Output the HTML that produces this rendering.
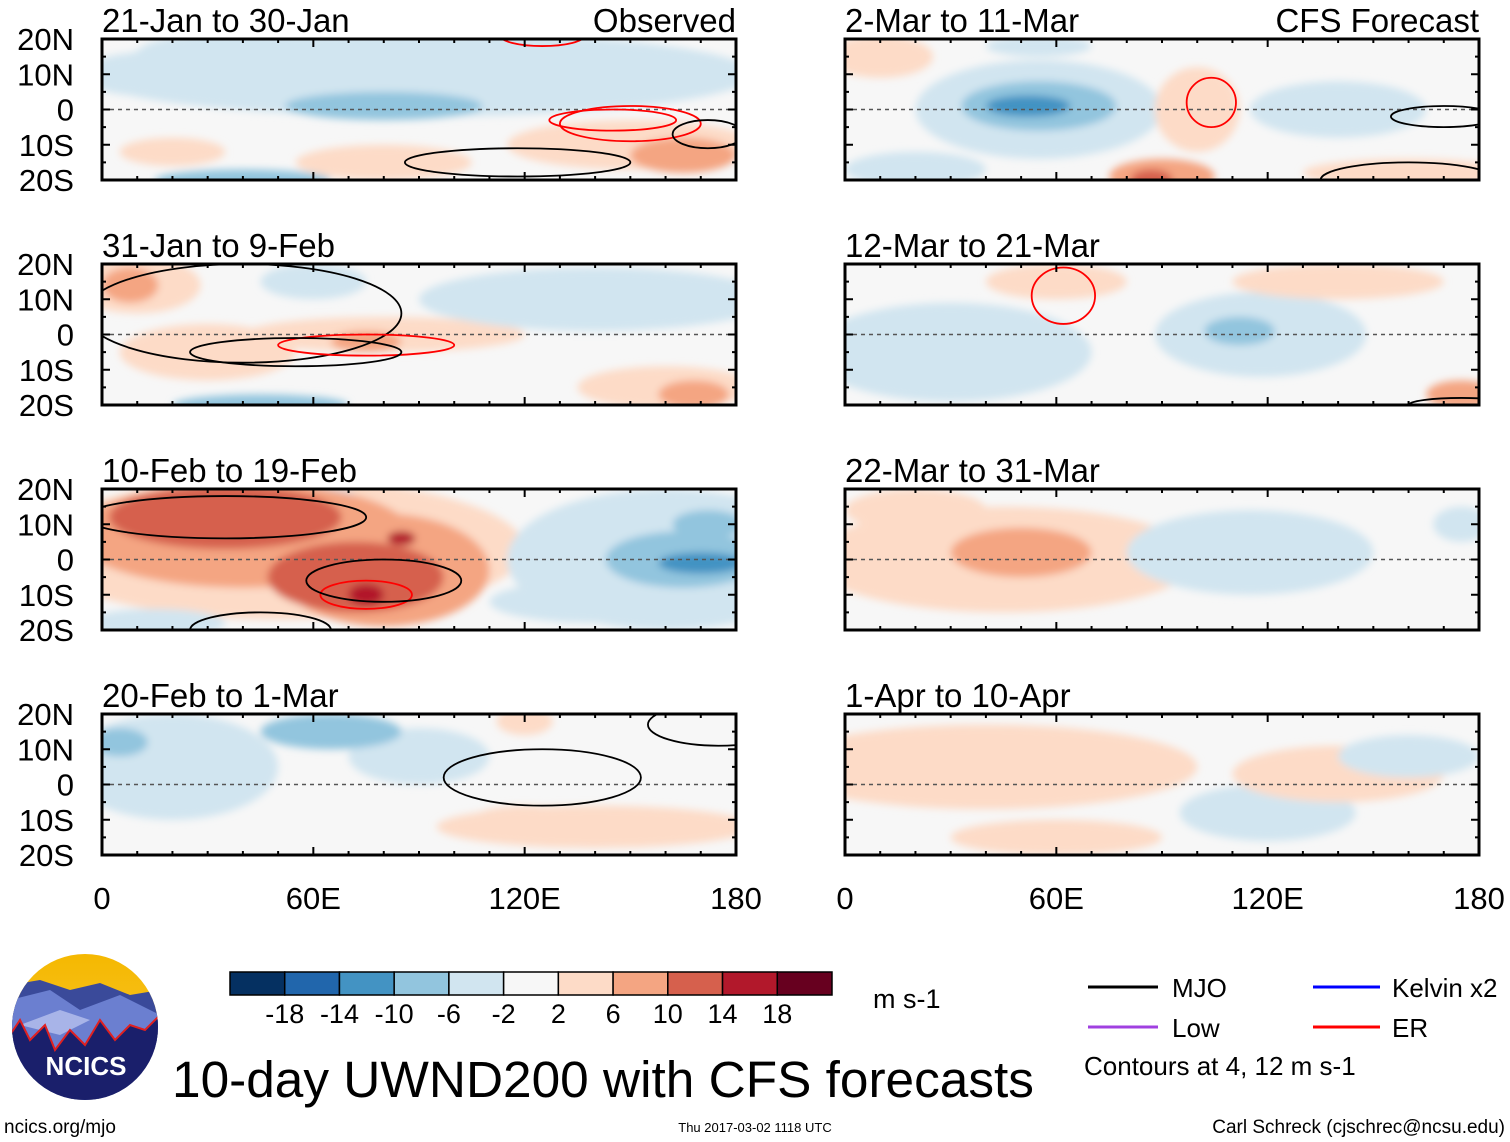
<!DOCTYPE html>
<html><head><meta charset="utf-8">
<style>
body{margin:0;background:#fff;}
svg{display:block;font-family:"Liberation Sans",sans-serif;}
</style></head>
<body>
<svg id="chart" width="1510" height="1142" viewBox="0 0 1510 1142" xmlns="http://www.w3.org/2000/svg">
<defs>
<filter id="blur" x="-20%" y="-20%" width="140%" height="140%"><feGaussianBlur stdDeviation="4"/></filter>
<linearGradient id="sky" x1="0" y1="0" x2="0" y2="1"><stop offset="0" stop-color="#f5b800"/><stop offset="1" stop-color="#f7c93a"/></linearGradient>
<clipPath id="logoclip"><circle cx="85" cy="1027" r="73"/></clipPath>
</defs>
<g id="panels"></g>
<g id="colorbar"></g>
<text x="873" y="1008" font-size="27">m s-1</text>
<g font-size="26">
<line x1="1088" y1="987" x2="1158" y2="987" stroke="#000" stroke-width="3"/>
<text x="1172" y="997">MJO</text>
<line x1="1313" y1="987" x2="1380" y2="987" stroke="#0000ff" stroke-width="3"/>
<text x="1392" y="997">Kelvin x2</text>
<line x1="1088" y1="1027" x2="1158" y2="1027" stroke="#a040e0" stroke-width="3"/>
<text x="1172" y="1037">Low</text>
<line x1="1313" y1="1027" x2="1380" y2="1027" stroke="#ff0000" stroke-width="3"/>
<text x="1392" y="1037">ER</text>
<text x="1084" y="1075">Contours at 4, 12 m s-1</text>
</g>
<g clip-path="url(#logoclip)">
<rect x="10" y="952" width="150" height="150" fill="url(#sky)"/>
<polygon points="10,985 40,980 70,990 100,983 130,995 160,990 160,1102 10,1102" fill="#3a4a9a"/>
<polygon points="10,1000 50,990 80,1010 120,995 160,1015 160,1102 10,1102" fill="#6b7fd0"/>
<polygon points="20,1025 60,1010 90,1020 60,1035" fill="#a8b4e8"/>
<polygon points="10,1035 20,1020 30,1040 45,1025 55,1050 70,1030 85,1045 100,1020 115,1040 130,1025 145,1030 160,1015 160,1102 10,1102" fill="#1a1f6b" stroke="#e02020" stroke-width="2"/>
</g>
<text x="86" y="1075" font-size="26" font-weight="bold" fill="#fff" text-anchor="middle">NCICS</text>
<text x="172" y="1097" font-size="51" textLength="862" lengthAdjust="spacingAndGlyphs">10-day UWND200 with CFS forecasts</text>
<text x="4" y="1133" font-size="19">ncics.org/mjo</text>
<text x="755" y="1132" font-size="13" text-anchor="middle">Thu 2017-03-02 1118 UTC</text>
<text x="1505" y="1133" font-size="19" text-anchor="end">Carl Schreck (cjschrec@ncsu.edu)</text>
</svg>
<script>
// Color scale
const levels = [-18,-14,-10,-6,-2,2,6,10,14,18];
const colors = ["#053061","#2166ac","#4393c3","#92c5de","#d1e5f0","#f7f7f7","#fddbc7","#f4a582","#d6604d","#b2182b","#67001f"];
const panelTitles = ["21-Jan to 30-Jan","31-Jan to 9-Feb","10-Feb to 19-Feb","20-Feb to 1-Mar","2-Mar to 11-Mar","12-Mar to 21-Mar","22-Mar to 31-Mar","1-Apr to 10-Apr"];
const latTicks = ["20N","10N","0","10S","20S"];
const lonTicks = ["0","60E","120E","180"];
// anomaly features per panel: [lon, lat, value, lonHalfWidth, latHalfWidth]
const anom0 = [[90,10,-4,95,12],[80,1,-8,28,4],[40,16,-4,30,6],[150,-10,4,35,7],[165,-13,8,15,5],[80,-15,4,25,5],[40,-20,-6,25,3],[10,10,-4,15,6],[20,-12,4,15,4]];
const anom1 = [[10,14,4,18,8],[8,14,8,8,5],[80,0,4,40,5],[75,-2,8,10,3],[160,-15,4,25,6],[168,-17,8,10,4],[45,-20,-6,25,3],[140,10,-4,50,9],[30,-5,4,25,8],[60,15,-4,15,5]];
const anom2 = [[50,3,4,70,20],[40,7,8,48,15],[80,-3,8,30,16],[35,12,12,33,9],[72,-5,12,25,10],[85,6,16,4,2],[75,-10,16,5,3],[160,0,-4,45,20],[165,0,-8,22,8],[170,-1,-12,12,3],[172,10,-8,10,4],[15,-18,-4,20,4],[60,18,-4,12,3],[140,-12,-4,30,6]];
const anom3 = [[20,5,-4,30,15],[5,12,-8,8,4],[65,15,-6,20,5],[140,-12,4,45,6],[120,18,4,8,4],[120,-10,4,15,4],[90,8,-4,20,8]];
const anom4 = [[55,0,-4,35,14],[55,1,-8,22,7],[52,1,-12,12,3],[90,-19,8,15,5],[87,-20,12,6,3],[100,0,4,12,12],[160,-18,4,30,4],[10,15,4,15,6],[20,-17,-4,20,5],[140,0,-4,25,8],[55,18,-4,15,3]];
const anom5 = [[118,0,-4,30,12],[112,1,-8,10,4],[30,-5,-4,40,14],[60,15,4,20,5],[175,-17,8,10,4],[140,15,4,30,5]];
const anom6 = [[45,0,4,55,15],[50,2,8,20,7],[115,2,-4,35,12],[175,10,-4,8,5],[20,14,4,20,6]];
const anom7 = [[40,5,4,60,12],[120,-8,-4,25,8],[140,3,4,30,8],[60,-15,4,30,5],[160,8,-4,20,6]];
const anoms = [anom0,anom1,anom2,anom3,anom4,anom5,anom6,anom7];
// contours: [lon, lat, lonHalfWidth, latHalfWidth, color]
const cont0 = [[118,-15,32,4,"#000"],[150,-4,20,5,"#f00"],[172,-7,10,4,"#000"],[145,-3,18,3,"#f00"],[125,21,12,3,"#f00"]];
const cont1 = [[40,6,45,14,"#000"],[75,-3,25,3,"#f00"],[55,-5,30,4,"#000"]];
const cont2 = [[35,12,40,6,"#000"],[75,-10,13,4,"#f00"],[80,-6,22,6,"#000"],[45,-20,20,5,"#000"]];
const cont3 = [[125,2,28,8,"#000"],[175,17,20,6,"#000"]];
const cont4 = [[104,2,7,7,"#f00"],[170,-2,15,3,"#000"],[160,-20,25,5,"#000"]];
const cont5 = [[62,11,9,8,"#f00"],[175,-20,15,2,"#000"]];
const cont6 = [];
const cont7 = [];
const conts = [cont0,cont1,cont2,cont3,cont4,cont5,cont6,cont7];

function colorFor(v){let i=0;while(i<levels.length&&v>levels[i])i++;return colors[i];}
const NS="http://www.w3.org/2000/svg";
function mk(tag,attrs,parent){const e=document.createElementNS(NS,tag);for(const k in attrs)e.setAttribute(k,attrs[k]);parent.appendChild(e);return e;}
const panelsG=document.getElementById('panels');
const W=634,H=141;
const rowsY=[39,264,489,714];
const colsX=[102,845];
for(let p=0;p<8;p++){
  const col=p<4?0:1,row=p%4;
  const x0=colsX[col],y0=rowsY[row];
  const xs=lon=>x0+lon/180*W, ys=lat=>y0+(20-lat)/40*H;
  const g=mk('g',{},panelsG);
  
  
  const cid='clip'+p;
  const cp=mk('clipPath',{id:cid},g);mk('rect',{x:x0,y:y0,width:W,height:H},cp);
  const inner=mk('g',{'clip-path':'url(#'+cid+')'},g);
  mk('rect',{x:x0,y:y0,width:W,height:H,fill:'#f7f7f7'},inner);
  const bl=mk('g',{filter:'url(#blur)'},inner);
  const sorted=anoms[p].slice().sort((a,b)=>Math.abs(a[2])-Math.abs(b[2]));
  sorted.forEach(a=>{
    const e=mk('ellipse',{cx:xs(a[0]),cy:ys(a[1]),rx:a[3]/180*W,ry:a[4]/40*H,fill:colorFor(a[2])},bl);
    
    
  });
  mk('line',{x1:x0,y1:ys(0),x2:x0+W,y2:ys(0),stroke:'#555','stroke-width':1.5,'stroke-dasharray':'4,4'},inner);
  conts[p].forEach(c=>{
    const e=mk('ellipse',{cx:xs(c[0]),cy:ys(c[1]),rx:c[2]/180*W,ry:c[3]/40*H,fill:'none',stroke:c[4],'stroke-width':1.8},inner);
    
    
  });
  mk('rect',{x:x0,y:y0,width:W,height:H,fill:'none',stroke:'#000','stroke-width':3},g);
  for(let l=0;l<=180;l+=10){const len=l%60==0?8:4;mk('line',{x1:xs(l),y1:y0,x2:xs(l),y2:y0+len,stroke:'#000','stroke-width':2},g);mk('line',{x1:xs(l),y1:y0+H,x2:xs(l),y2:y0+H-len,stroke:'#000','stroke-width':2},g);}
  for(let la=-20;la<=20;la+=5){const len=la%10==0?8:4;mk('line',{x1:x0,y1:ys(la),x2:x0+len,y2:ys(la),stroke:'#000','stroke-width':2},g);mk('line',{x1:x0+W,y1:ys(la),x2:x0+W-len,y2:ys(la),stroke:'#000','stroke-width':2},g);}
  const t=mk('text',{x:x0,y:y0-7,'font-size':33},g);t.textContent=panelTitles[p];
  
  
  if(p==0||p==4){const t2=mk('text',{x:x0+W,y:y0-7,'font-size':33,'text-anchor':'end'},g);t2.textContent=p==0?'Observed':'CFS Forecast';
    
    }
  if(col==0){latTicks.forEach((s,i)=>{const tt=mk('text',{x:74,y:y0+i*H/4+11,'font-size':31,'text-anchor':'end'},g);tt.textContent=s;
    
    });}
  if(row==3){lonTicks.forEach((s,i)=>{const tt=mk('text',{x:x0+i*W/3,y:909,'font-size':31,'text-anchor':'middle'},g);tt.textContent=s;
    
    });}
}
const cb=document.getElementById('colorbar');
const cbx=230,cbw=602/11;
colors.forEach((c,i)=>{const r=mk('rect',{x:cbx+i*cbw,y:972,width:cbw,height:23,fill:c,stroke:'#000','stroke-width':1.5},cb);
  
  });
levels.forEach((v,i)=>{const t=mk('text',{x:cbx+(i+1)*cbw,y:1023,'font-size':27,'text-anchor':'middle'},cb);t.textContent=v;
  
  });
</script>
</body></html>
